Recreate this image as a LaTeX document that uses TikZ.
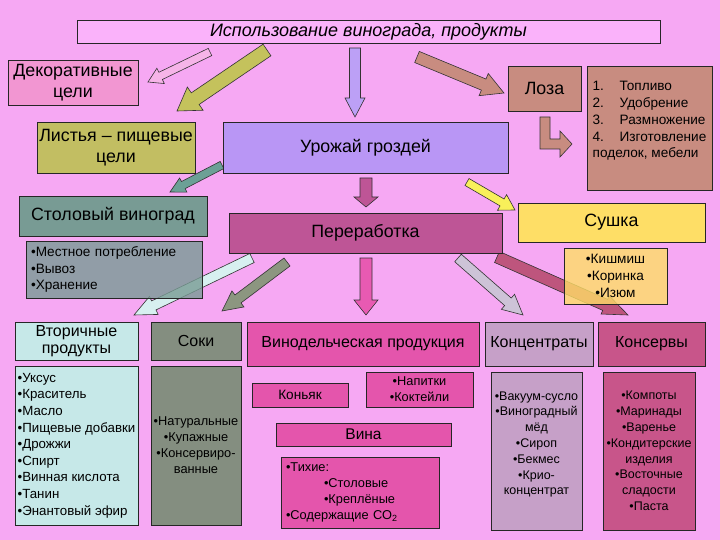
\documentclass[tikz,border=0pt]{standalone}
\usepackage{fontspec}
\setmainfont{Liberation Sans}
\usetikzlibrary{calc}

\definecolor{bgpink}{RGB}{246,168,243}
\definecolor{titlepink}{RGB}{250,178,250}
\definecolor{decopink}{RGB}{242,150,210}
\definecolor{leafolive}{RGB}{194,190,98}
\definecolor{harvestlav}{RGB}{185,150,245}
\definecolor{vinebrown}{RGB}{200,140,128}
\definecolor{tablegreen}{RGB}{120,155,148}
\definecolor{processmag}{RGB}{190,85,150}
\definecolor{dryyellow}{RGB}{254,222,102}
\definecolor{secondcyan}{RGB}{198,232,232}
\definecolor{juicegray}{RGB}{132,142,128}
\definecolor{winemag}{RGB}{228,85,172}
\definecolor{concmauve}{RGB}{198,160,200}
\definecolor{cannedrose}{RGB}{200,85,138}
\definecolor{arrpink}{RGB}{246,180,232}
\definecolor{arrolive}{RGB}{196,194,92}
\definecolor{arrlav}{RGB}{188,160,246}
\definecolor{arrteal}{RGB}{108,160,150}
\definecolor{arrcyan}{RGB}{215,240,240}
\definecolor{arrgray}{RGB}{140,150,128}
\definecolor{arrhot}{RGB}{232,90,178}
\definecolor{arrlilac}{RGB}{205,195,215}
\definecolor{arrplum}{RGB}{190,85,125}
\definecolor{arryellow}{RGB}{248,240,90}

\tikzset{
  box/.style={draw=black!85, line width=0.8pt, inner sep=2pt, align=center, text=black},
  txtital/.style={font=\fontsize{18}{21}\selectfont\itshape},
  txtbig/.style={font=\fontsize{17.8}{21}\selectfont},
  txtmid/.style={font=\fontsize{16}{17.5}\selectfont},
  txtlist/.style={font=\fontsize{13.6}{16.8}\selectfont},
  txtsmall/.style={font=\fontsize{12.8}{16}\selectfont},
  txtnarrow/.style={font=\fontsize{12.5}{15.8}\selectfont},
  fat/.style={draw=black!80, line width=0.6pt, line join=miter},
}

\newcommand{\fatarrow}[6][]{%
  \coordinate (fa-neck) at ($(#3)!#6!(#2)$);
  \draw[fat,#1] ($(#2)!#4!90:(#3)$) -- ($(fa-neck)!#4!90:(#3)$)
    -- ($(fa-neck)!#5!90:(#3)$) -- (#3) -- ($(fa-neck)!#5!-90:(#3)$)
    -- ($(fa-neck)!#4!-90:(#3)$) -- ($(#2)!#4!-90:(#3)$) -- cycle;
}

\begin{document}
\begin{tikzpicture}[x=1pt,y=-1pt]
  \fill[bgpink] (0,0) rectangle (720,540);
  \useasboundingbox (0,0) rectangle (720,540);

  \coordinate (a1s) at (210,52);
  \coordinate (a1e) at (148,82);
  \coordinate (a2s) at (267,50);
  \coordinate (a2e) at (177,111);
  \coordinate (a3s) at (355,48);
  \coordinate (a3e) at (355,117);
  \coordinate (a4s) at (417,57);
  \coordinate (a4e) at (504,93);
  \coordinate (a5s) at (545,117);
  \coordinate (a6s) at (222,165);
  \coordinate (a6e) at (170,192);
  \coordinate (a7s) at (252,258);
  \coordinate (a7e) at (134,315);
  \coordinate (a8s) at (287,262);
  \coordinate (a8e) at (222,311);
  \coordinate (a9s) at (366,178);
  \coordinate (a9e) at (366,207);
  \coordinate (a10s) at (366,258);
  \coordinate (a10e) at (366,315);
  \coordinate (a11s) at (458,258);
  \coordinate (a11e) at (523,315);
  \coordinate (a12s) at (497,257);
  \coordinate (a12e) at (628,315);
  \coordinate (a13s) at (467,182);
  \coordinate (a13e) at (515,210);

  \fatarrow[fill=arrpink]{a1s}{a1e}{4pt}{8.5pt}{14pt}
  \fatarrow[fill=arrolive]{a2s}{a2e}{7pt}{14pt}{22pt}
  \fatarrow[fill=arrlav]{a3s}{a3e}{5.5pt}{10pt}{19pt}
  \fatarrow[fill=vinebrown]{a4s}{a4e}{6pt}{12pt}{22pt}
  \draw[fat, fill=vinebrown] ($(a5s)+(-5,0)$) -- ++(0,32) -- ++(20,0) -- ++(0,8)
    -- ++(12,-13) -- ++(-12,-13) -- ++(0,8) -- ++(-10,0) -- ++(0,-22) -- cycle;
  \fatarrow[fill=arrteal]{a6s}{a6e}{4pt}{8pt}{15pt}
  \fatarrow[fill=arrcyan]{a7s}{a7e}{5pt}{10pt}{22pt}
  \fatarrow[fill=arrgray]{a8s}{a8e}{5pt}{10pt}{20pt}
  \fatarrow[fill=processmag]{a9s}{a9e}{6pt}{12pt}{10pt}
  \fatarrow[fill=arrhot]{a10s}{a10e}{6pt}{12pt}{15pt}
  \fatarrow[fill=arrlilac]{a11s}{a11e}{5pt}{10pt}{20pt}
  \fatarrow[fill=arrplum]{a12s}{a12e}{6pt}{10pt}{25pt}
  \fatarrow[fill=arryellow]{a13s}{a13e}{4pt}{9pt}{15pt}

  \node[box, txtital, fill=titlepink, minimum width=583pt, minimum height=23pt] (title) at (368.5,31.5) {Использование винограда, продукты};
  \node[box, txtbig, fill=decopink, minimum width=130pt, minimum height=45pt] (deco) at (73,82.5) {Декоративные\\цели};
  \node[box, txtbig, fill=leafolive, minimum width=158pt, minimum height=51pt] (leaves) at (116,147.5) {Листья – пищевые\\цели};
  \node[box, txtbig, fill=harvestlav, minimum width=285pt, minimum height=51pt] (harvest) at (365.5,147.5) {Урожай гроздей};
  \node[box, txtbig, fill=vinebrown, minimum width=73pt, minimum height=45pt] (vine) at (544.5,88.5) {Лоза};
  \node[box, txtlist, fill=vinebrown, align=left, minimum width=125pt, minimum height=124pt] (vineuse) at (649.5,128)
    {\makebox[27pt][l]{1.}Топливо\\\makebox[27pt][l]{2.}Удобрение\\\makebox[27pt][l]{3.}Размножение\\\makebox[27pt][l]{4.}Изготовление\\поделок, мебели\\ \mbox{}};

  \node[box, txtbig, fill=tablegreen, minimum width=188pt, minimum height=40pt] (table) at (113,216) {Столовый виноград};
  \node[box, txtlist, fill=tablegreen, fill opacity=0.8, text opacity=1, align=left, text width=166pt, inner sep=5pt, minimum height=57pt] (tableuse) at (114,269.5)
    {•Местное потребление\\•Вывоз\\•Хранение};
  \node[box, txtbig, fill=processmag, minimum width=273pt, minimum height=40pt] (process) at (365.5,233) {Переработка};
  \node[box, txtbig, fill=dryyellow, minimum width=187pt, minimum height=39pt] (dry) at (611.5,222.5) {Сушка};
  \node[box, txtlist, fill=dryyellow, fill opacity=0.8, text opacity=1, minimum width=103pt, minimum height=56pt] (dryuse) at (615.5,276)
    {•Кишмиш\\•Коринка\\•Изюм};

  \node[box, txtmid, fill=secondcyan, minimum width=123pt, minimum height=38pt] (second) at (76.5,341) {Вторичные\\продукты};
  \node[box, txtlist, font=\fontsize{13.3}{16.6}\selectfont, fill=secondcyan, align=left, minimum width=123pt, minimum height=159pt] (seconduse) at (76.5,445.5)
    {•Уксус\\•Краситель\\•Масло\\•Пищевые добавки\\•Дрожжи\\•Спирт\\•Винная кислота\\•Танин\\•Энантовый эфир};
  \node[box, txtmid, fill=juicegray, minimum width=90pt, minimum height=38pt] (juice) at (196,341) {Соки};
  \node[box, txtsmall, fill=juicegray, minimum width=90pt, minimum height=159pt] (juiceuse) at (196,445.5)
    {•Натуральные\\•Купажные\\•Консервиро-\\ванные};

  \node[box, txtmid, fill=winemag, minimum width=232pt, minimum height=44pt] (wine) at (363,344) {Винодельческая продукция};
  \node[box, txtlist, fill=winemag, minimum width=96pt, minimum height=24pt] (cognac) at (300,395) {Коньяк};
  \node[box, txtsmall, fill=winemag, inner sep=1pt, minimum width=107pt, minimum height=35pt] (drinks) at (419.5,389.5) {•Напитки\\•Коктейли};
  \node[box, font=\fontsize{15.5}{18}\selectfont, fill=winemag, minimum width=175pt, minimum height=23pt] (wines) at (363.5,434.5) {Вина};
  \node[box, txtsmall, fill=winemag, align=left, text width=148pt, inner sep=5pt, minimum height=71pt] (wineuse) at (360,492.5)
    {•Тихие:\\\hspace*{38pt}•Столовые\\\hspace*{38pt}•Креплёные\\•Содержащие CO\textsubscript{2}};

  \node[box, txtmid, fill=concmauve, minimum width=108pt, minimum height=44pt] (conc) at (539,344) {Концентраты};
  \node[box, txtnarrow, fill=concmauve, minimum width=91pt, minimum height=158pt] (concuse) at (536.5,451)
    {•Вакуум-сусло\\•Виноградный\\мёд\\•Сироп\\•Бекмес\\•Крио-\\концентрат\\ \mbox{}};
  \node[box, txtmid, fill=cannedrose, minimum width=107pt, minimum height=44pt] (canned) at (651.5,344) {Консервы};
  \node[box, txtnarrow, fill=cannedrose, minimum width=92pt, minimum height=158pt] (cannedcuse) at (649,451)
    {•Компоты\\•Маринады\\•Варенье\\•Кондитерские\\изделия\\•Восточные\\сладости\\•Паста};
\end{tikzpicture}
\end{document}
